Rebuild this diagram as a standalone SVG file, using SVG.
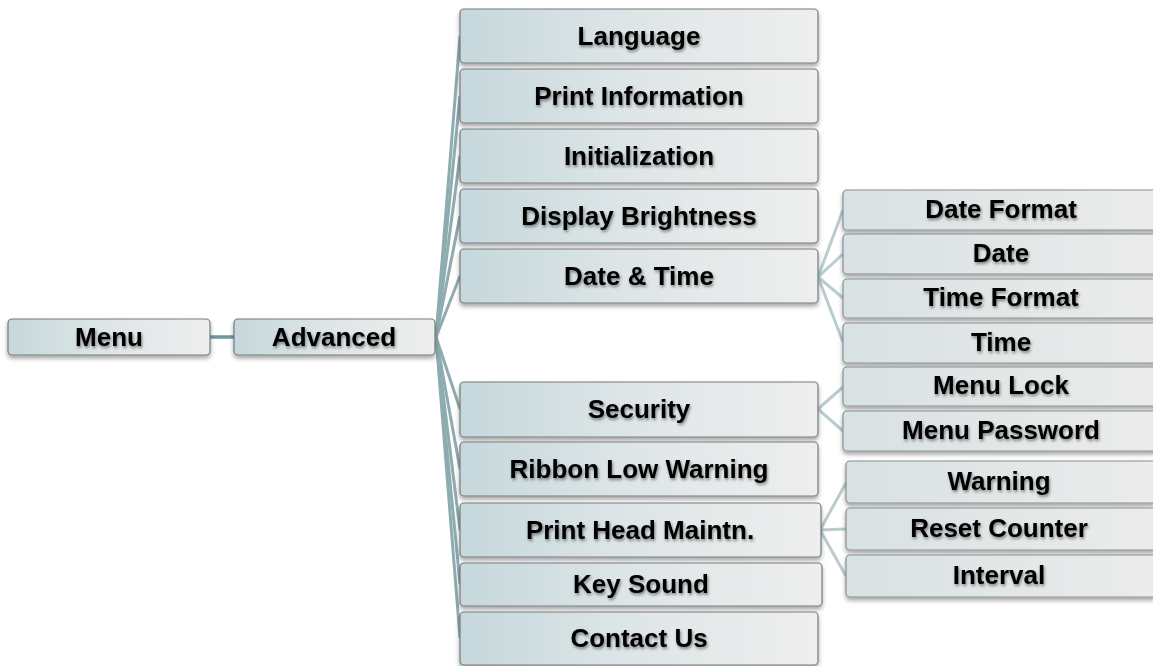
<svg xmlns="http://www.w3.org/2000/svg" width="1153" height="666" viewBox="0 0 1153 666">
<defs>
<linearGradient id="g1" x1="0" y1="0" x2="1" y2="0">
<stop offset="0" stop-color="#c6d8dc"/>
<stop offset="0.5" stop-color="#dfe6e8"/>
<stop offset="1" stop-color="#eeeeee"/>
</linearGradient>
<linearGradient id="g3" x1="0" y1="0" x2="1" y2="0">
<stop offset="0" stop-color="#d8e1e3"/>
<stop offset="1" stop-color="#ececec"/>
</linearGradient>
<filter id="bs" x="-5%" y="-20%" width="110%" height="150%">
<feDropShadow dx="0" dy="3" stdDeviation="2" flood-color="#000" flood-opacity="0.35"/>
</filter>
<filter id="ts" x="-10%" y="-30%" width="120%" height="160%">
<feDropShadow dx="1" dy="2" stdDeviation="1.6" flood-color="#000" flood-opacity="0.45"/>
</filter>
</defs>
<style>
.b1{fill:url(#g1);stroke:#767b7d;stroke-width:1.2;filter:url(#bs)}
.b3{fill:url(#g3);stroke:#8a8f90;stroke-width:1.2;filter:url(#bs)}
.t{font-family:"Liberation Sans",Arial,sans-serif;font-weight:bold;font-size:26px;fill:#000;text-anchor:middle;filter:url(#ts)}
.c1{stroke:#8eacb0;stroke-width:3;fill:none}
.c0{stroke:#6b98a2;stroke-width:3.5;fill:none}
.c2{stroke:#b9cdce;stroke-width:3;fill:none}
</style>
<g id="connectors">
<line class="c0" x1="210" y1="337" x2="234" y2="337"/>
<line class="c1" x1="436" y1="337" x2="460" y2="36"/>
<line class="c1" x1="436" y1="337" x2="460" y2="96"/>
<line class="c1" x1="436" y1="337" x2="460" y2="156"/>
<line class="c1" x1="436" y1="337" x2="460" y2="216"/>
<line class="c1" x1="436" y1="337" x2="460" y2="276"/>
<line class="c1" x1="436" y1="337" x2="460" y2="409"/>
<line class="c1" x1="436" y1="337" x2="460" y2="469"/>
<line class="c1" x1="436" y1="337" x2="460" y2="530"/>
<line class="c1" x1="436" y1="337" x2="460" y2="584"/>
<line class="c1" x1="436" y1="337" x2="460" y2="638"/>
<line class="c2" x1="818" y1="277" x2="843" y2="210"/>
<line class="c2" x1="818" y1="277" x2="843" y2="254"/>
<line class="c2" x1="818" y1="277" x2="843" y2="298"/>
<line class="c2" x1="818" y1="277" x2="843" y2="342"/>
<line class="c2" x1="818" y1="409" x2="843" y2="387"/>
<line class="c2" x1="818" y1="409" x2="843" y2="431"/>
<line class="c2" x1="820" y1="530" x2="846" y2="483"/>
<line class="c2" x1="820" y1="530" x2="846" y2="529"/>
<line class="c2" x1="820" y1="530" x2="846" y2="576"/>
</g>
<g id="menu"><rect class="b1" x="8" y="319" width="202" height="36" rx="4"/><text class="t" x="109" y="346">Menu</text></g>
<g id="advanced"><rect class="b1" x="234" y="319" width="201" height="36" rx="4"/><text class="t" x="334" y="346">Advanced</text></g>
<g id="language"><rect class="b1" x="460" y="9" width="358" height="54" rx="4"/><text class="t" x="639" y="45">Language</text></g>
<g id="print-information"><rect class="b1" x="460" y="69" width="358" height="54" rx="4"/><text class="t" x="639" y="105">Print Information</text></g>
<g id="initialization"><rect class="b1" x="460" y="129" width="358" height="54" rx="4"/><text class="t" x="639" y="165">Initialization</text></g>
<g id="display-brightness"><rect class="b1" x="460" y="189" width="358" height="54" rx="4"/><text class="t" x="639" y="225">Display Brightness</text></g>
<g id="date-time"><rect class="b1" x="460" y="249" width="358" height="54" rx="4"/><text class="t" x="639" y="285">Date &amp; Time</text></g>
<g id="security"><rect class="b1" x="460" y="382" width="358" height="55" rx="4"/><text class="t" x="639" y="418">Security</text></g>
<g id="ribbon-low-warning"><rect class="b1" x="460" y="442" width="358" height="54" rx="4"/><text class="t" x="639" y="478">Ribbon Low Warning</text></g>
<g id="print-head-maintn"><rect class="b1" x="460" y="503" width="361" height="54" rx="4"/><text class="t" x="640" y="539">Print Head Maintn.</text></g>
<g id="key-sound"><rect class="b1" x="460" y="563" width="362" height="43" rx="4"/><text class="t" x="641" y="593">Key Sound</text></g>
<g id="contact-us"><rect class="b1" x="460" y="612" width="358" height="53" rx="4"/><text class="t" x="639" y="647">Contact Us</text></g>
<g id="date-format"><rect class="b3" x="843" y="190" width="316" height="40" rx="4"/><text class="t" x="1001" y="218">Date Format</text></g>
<g id="date"><rect class="b3" x="843" y="234" width="316" height="40" rx="4"/><text class="t" x="1001" y="262">Date</text></g>
<g id="time-format"><rect class="b3" x="843" y="279" width="316" height="39" rx="4"/><text class="t" x="1001" y="306">Time Format</text></g>
<g id="time"><rect class="b3" x="843" y="323" width="316" height="40" rx="4"/><text class="t" x="1001" y="351">Time</text></g>
<g id="menu-lock"><rect class="b3" x="843" y="367" width="316" height="39" rx="4"/><text class="t" x="1001" y="394">Menu Lock</text></g>
<g id="menu-password"><rect class="b3" x="843" y="411" width="316" height="40" rx="4"/><text class="t" x="1001" y="439">Menu Password</text></g>
<g id="warning"><rect class="b3" x="846" y="461" width="310" height="42" rx="4"/><text class="t" x="999" y="490">Warning</text></g>
<g id="reset-counter"><rect class="b3" x="846" y="508" width="310" height="42" rx="4"/><text class="t" x="999" y="537">Reset Counter</text></g>
<g id="interval"><rect class="b3" x="846" y="555" width="310" height="42" rx="4"/><text class="t" x="999" y="584">Interval</text></g>
</svg>
